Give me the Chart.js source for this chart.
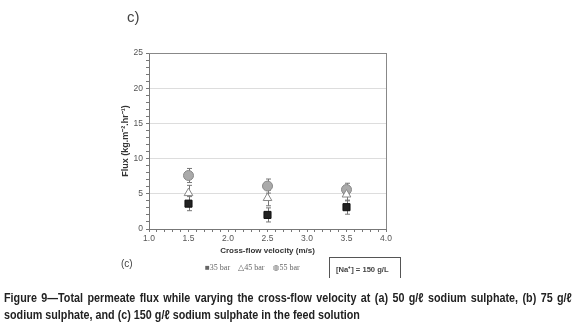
<!DOCTYPE html>
<html>
<head>
<meta charset="utf-8">
<script src="https://cdn.jsdelivr.net/npm/chart.js@4.4.1/dist/chart.umd.min.js"></script>
<style>
  html, body { margin: 0; padding: 0; background: #fff; }
  #wrap { position: relative; width: 576px; height: 329px; overflow: hidden; font-family: "Liberation Sans", Arial, sans-serif; }
  #grafico { position: absolute; left: 0; top: 0; }
  .txt { position: absolute; white-space: nowrap; color: #333; }
  #panel { left: 127px; top: 8px; font-size: 15px; color: #444; }
  #subc { left: 121px; top: 258px; font-size: 10px; color: #444; }
  #leyenda { left: 205px; top: 263px; font-family: "Liberation Serif", "DejaVu Serif", serif; font-size: 8px; color: #666; }
  #leyenda span { margin-right: 8px; }
  #caja { position: absolute; left: 329px; top: 257px; width: 70px; height: 20px; border: 1px solid #555; border-bottom: none; }
  #caja div { position: absolute; left: 6px; top: 6px; font-size: 7.6px; font-weight: bold; color: #444; }
  #caption { left: 4px; top: 289px; font-size: 12.8px; font-weight: bold; line-height: 17px; color: #222; }
  #caption span { display: inline-block; transform-origin: left center; }
</style>
</head>
<body>
<div id="wrap">
  <canvas id="grafico" width="576" height="329"></canvas>
  <div class="txt" id="panel">c)</div>
  <div class="txt" id="subc">(c)</div>
  <div class="txt" id="leyenda"><span>■35 bar</span><span>△45 bar</span><span>◍55 bar</span></div>
  <div id="caja"><div>[Na⁺] = 150 g/L</div></div>
  <div class="txt" id="caption"><span id="linea1">Figure 9—Total permeate flux while varying the cross-flow velocity at (a) 50 g/ℓ sodium sulphate, (b) 75 g/ℓ</span><br><span id="linea2">sodium sulphate, and (c) 150 g/ℓ sodium sulphate in the feed solution</span></div>
</div>
<script>
// velocidades (m/s)
const velocidades = [1.5, 2.5, 3.5];
// flux por presion
const flux35 = [3.6, 2.0, 3.1];
const flux45 = [5.1, 4.4, 4.9];
const flux55 = [7.6, 6.1, 5.6];
// barras de error
const err35 = [1.0, 1.0, 1.0];
const err45 = [1.1, 1.1, 0.9];
const err55 = [1.0, 1.0, 0.9];

const etiquetas = ['35 bar', '45 bar', '55 bar'];

// pie de figura: fuente condensada y primera linea justificada
const l1 = document.getElementById('linea1');
const l2 = document.getElementById('linea2');
const escala = 356 / l2.offsetWidth;
l1.style.transform = `scaleX(${escala})`;
l2.style.transform = `scaleX(${escala})`;
const espacios = l1.textContent.split(' ').length - 1;
const extra = (568 / escala - l1.offsetWidth) / espacios;
l1.style.wordSpacing = `${extra}px`;

const aPuntos = (ys) => velocidades.map((v, i) => ({ x: v, y: ys[i] }));
const errores = [err35, err45, err55];

// dibuja las barras de error con las escalas del grafico
const pluginErrores = {
    id: 'errores',
    beforeDatasetsDraw(chart) {
        const ctx = chart.ctx;
        const xs = chart.scales.x, ys = chart.scales.y;
        ctx.save();
        ctx.strokeStyle = '#777';
        ctx.lineWidth = 1;
        chart.data.datasets.forEach((ds, i) => {
            ds.data.forEach((p, j) => {
                const x = Math.round(xs.getPixelForValue(p.x)) + 0.5;
                const y1 = ys.getPixelForValue(p.y + errores[i][j]);
                const y2 = ys.getPixelForValue(p.y - errores[i][j]);
                ctx.beginPath();
                ctx.moveTo(x, y1); ctx.lineTo(x, y2);
                ctx.moveTo(x - 2.5, y1); ctx.lineTo(x + 2.5, y1);
                ctx.moveTo(x - 2.5, y2); ctx.lineTo(x + 2.5, y2);
                ctx.stroke();
            });
        });
        ctx.restore();
    }
};

// borde derecho y superior del area
const pluginBorde = {
    id: 'borde',
    afterDraw(chart) {
        const a = chart.chartArea, ctx = chart.ctx;
        ctx.save();
        ctx.strokeStyle = '#888';
        ctx.lineWidth = 1;
        ctx.beginPath();
        ctx.moveTo(Math.round(a.right) + 0.5, a.top);
        ctx.lineTo(Math.round(a.right) + 0.5, a.bottom);
        ctx.moveTo(a.left, Math.round(a.top) + 0.5);
        ctx.lineTo(a.right, Math.round(a.top) + 0.5);
        ctx.stroke();
        ctx.restore();
    }
};

const esMultiplo = (v, m) => Math.abs(v / m - Math.round(v / m)) < 1e-6;

new Chart(document.getElementById('grafico'), {
    type: 'scatter',
    data: {
        datasets: [
            { label: etiquetas[0], data: aPuntos(flux35), pointStyle: 'rect', pointRadius: 5, backgroundColor: '#222', borderColor: '#111', borderWidth: 1 },
            { label: etiquetas[1], data: aPuntos(flux45), pointStyle: 'triangle', pointRadius: 5, backgroundColor: '#fff', borderColor: '#888', borderWidth: 1 },
            { label: etiquetas[2], data: aPuntos(flux55), pointStyle: 'circle', pointRadius: 5, backgroundColor: '#aaa', borderColor: '#888', borderWidth: 1 }
        ]
    },
    options: {
        responsive: false,
        animation: false,
        layout: { padding: { left: 120, right: 190, top: 53, bottom: 73 } },
        plugins: { legend: { display: false }, tooltip: { enabled: false } },
        scales: {
            x: {
                type: 'linear', min: 1, max: 4,
                afterFit: (s) => { s.height = 27; },
                grid: { color: 'transparent', tickColor: '#777', tickLength: 3, drawOnChartArea: false },
                border: { color: '#777' },
                ticks: {
                    stepSize: 0.1, autoSkip: false, maxRotation: 0, padding: 2,
                    color: '#555', font: { family: 'Liberation Sans', size: 8.5 },
                    callback: (v) => esMultiplo(v, 0.5) ? v.toFixed(1) : ''
                },
                title: { display: true, text: 'Cross-flow velocity (m/s)', color: '#333', padding: { top: 0, bottom: 0 }, font: { family: 'Liberation Sans', size: 8, weight: 'bold' } }
            },
            y: {
                min: 0, max: 25,
                afterFit: (s) => { s.width = 29; },
                grid: {
                    color: (c) => (c.tick && esMultiplo(c.tick.value, 5) && c.tick.value > 0) ? '#ddd' : 'transparent',
                    tickColor: '#777', tickLength: 3
                },
                border: { color: '#777' },
                ticks: {
                    stepSize: 1, autoSkip: false, padding: 3,
                    color: '#555', font: { family: 'Liberation Sans', size: 8.5 },
                    callback: (v) => esMultiplo(v, 5) ? v : ''
                },
                title: { display: true, text: 'Flux (kg.m⁻².hr⁻¹)', color: '#333', padding: 0, font: { family: 'Liberation Sans', size: 9, weight: 'bold' } }
            }
        }
    },
    plugins: [pluginErrores, pluginBorde]
});
</script>
</body>
</html>
